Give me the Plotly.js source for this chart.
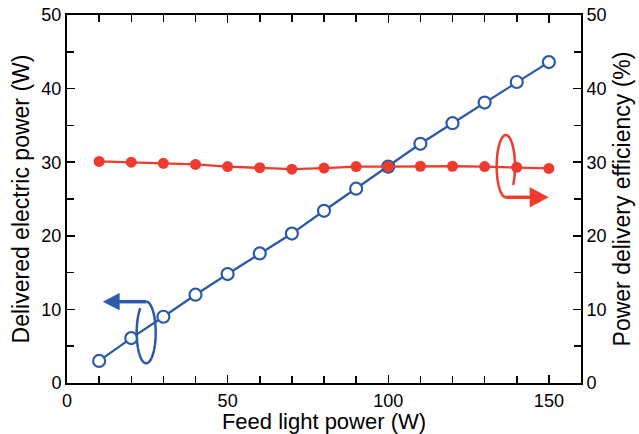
<!DOCTYPE html>
<html>
<head>
<meta charset="utf-8">
<script src="https://cdn.plot.ly/plotly-3.0.1.min.js"></script>
<style>html,body{margin:0;padding:0;background:#fff;}#chart{width:639px;height:434px;}</style>
</head>
<body>
<div id="chart"></div>
<script>
// Data
const feedPower = [10,20,30,40,50,60,70,80,90,100,110,120,130,140,150];
const deliveredPower = [3.0,6.1,9.0,12.0,14.8,17.6,20.3,23.4,26.4,29.4,32.5,35.3,38.1,40.9,43.6];
const efficiency = [30.1,30.0,29.85,29.7,29.4,29.25,29.05,29.2,29.4,29.4,29.45,29.45,29.4,29.3,29.15];
const xTickVals = [0,50,100,150];
const yTickVals = [0,10,20,30,40,50];

const BLUE = '#2b5aa8';
const RED = '#ee3b2e';
const FONT = 'Liberation Sans, Arial, sans-serif';

function arcPath(cx, cy, rx, ry, t0, t1, n) {
  let d = '';
  for (let i = 0; i <= n; i++) {
    const t = (t0 + (t1 - t0) * i / n) * Math.PI / 180;
    const x = cx + rx * Math.cos(t), y = cy + ry * Math.sin(t);
    d += (i === 0 ? 'M' : 'L') + x.toFixed(4) + ',' + y.toFixed(4);
  }
  return d;
}

// blue ring (left axis indicator)
const bC = {cx: 24.65, cy: 6.86, rx: 2.96, ry: 4.19};
const bTop = bC.cy + bC.ry;
// red ring (right axis indicator)
const rC = {cx: 136.6, cy: 29.46, rx: 2.85, ry: 4.23};
const rBot = rC.cy - rC.ry;

const shapes = [
  {type:'path', xref:'x', yref:'y', layer:'above', path: arcPath(bC.cx,bC.cy,bC.rx,bC.ry,90,-232,80), line:{color:BLUE,width:2.5}},
  {type:'path', xref:'x', yref:'y', layer:'above', path: 'M'+bC.cx+','+bTop+'L16.0,'+bTop, line:{color:BLUE,width:3.5}},
  {type:'path', xref:'x', yref:'y', layer:'above', path: 'M11.3,'+bTop+'L16.3,'+(bTop+1.13)+'L16.3,'+(bTop-1.13)+'Z', fillcolor:BLUE, line:{color:BLUE,width:0.5}},
  {type:'path', xref:'x', yref:'y', layer:'above', path: arcPath(rC.cx,rC.cy,rC.rx,rC.ry,-90,-397,80), line:{color:RED,width:2.5}},
  {type:'path', xref:'x', yref:'y', layer:'above', path: 'M'+rC.cx+','+rBot+'L144.4,'+rBot, line:{color:RED,width:3.5}},
  {type:'path', xref:'x', yref:'y', layer:'above', path: 'M149.8,'+rBot+'L144.1,'+(rBot+1.33)+'L144.1,'+(rBot-1.33)+'Z', fillcolor:RED, line:{color:RED,width:0.5}}
];

const traces = [
  {x: feedPower, y: efficiency, yaxis:'y2', type:'scatter', mode:'lines+markers',
   line:{color:RED,width:2.3}, marker:{color:RED,size:11,symbol:'circle'}, cliponaxis:false},
  {x: feedPower, y: deliveredPower, type:'scatter', mode:'lines+markers',
   line:{color:BLUE,width:2.3}, marker:{color:'#ffffff',size:12,symbol:'circle',line:{color:BLUE,width:2.2}}, cliponaxis:false}
];

const axCommon = {
  showgrid:false, zeroline:false, showline:true, linecolor:'#000', linewidth:2,
  ticks:'inside', ticklen:8, tickwidth:1.5, tickcolor:'#000',
  tickfont:{family:FONT,size:18,color:'#000'}
};

const layout = {
  width:639, height:434,
  margin:{l:67, r:58, t:15, b:51},
  paper_bgcolor:'#fff', plot_bgcolor:'#fff',
  showlegend:false,
  font:{family:FONT,color:'#000'},
  xaxis: Object.assign({}, axCommon, {
    range:[0,160], tickmode:'array', tickvals:xTickVals, mirror:'ticks',
    minor:{dtick:10, tick0:0, ticks:'inside', ticklen:7, tickwidth:1.5, tickcolor:'#000'},
    title:{text:'Feed light power (W)', font:{family:FONT,size:22,color:'#000'}, standoff:3}
  }),
  xaxis2: Object.assign({}, axCommon, {
    range:[0,160], tickmode:'array', tickvals:xTickVals, overlaying:'x', anchor:'y', side:'top',
    showticklabels:false,
    minor:{dtick:10, tick0:0, ticks:'inside', ticklen:7, tickwidth:1.5, tickcolor:'#000'}
  }),
  yaxis: Object.assign({}, axCommon, {
    range:[0,50], tickmode:'array', tickvals:yTickVals,
    minor:{dtick:5, tick0:0, ticks:'inside', ticklen:7, tickwidth:1.5, tickcolor:'#000'},
    title:{text:'Delivered electric power (W)', font:{family:FONT,size:23,color:'#000'}, standoff:5}
  }),
  yaxis2: Object.assign({}, axCommon, {
    range:[0,50], tickmode:'array', tickvals:yTickVals, overlaying:'y', side:'right',
    minor:{dtick:5, tick0:0, ticks:'inside', ticklen:7, tickwidth:1.5, tickcolor:'#000'},
    title:{text:'Power delivery efficiency (%)', font:{family:FONT,size:23,color:'#000'}, standoff:8}
  }),
  shapes: shapes
};

Plotly.newPlot('chart', traces, layout, {staticPlot:true, displayModeBar:false});
</script>
</body>
</html>
